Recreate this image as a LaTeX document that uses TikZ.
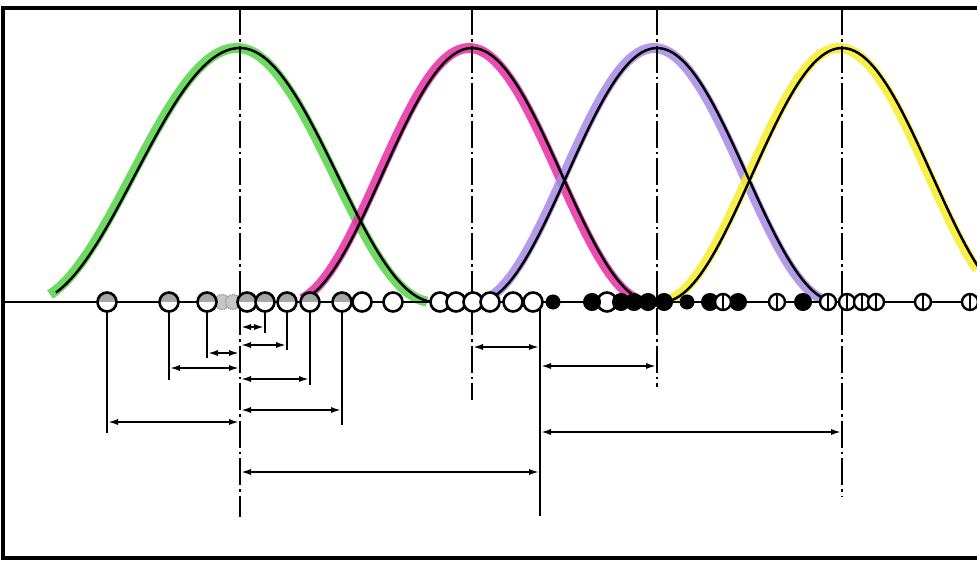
\documentclass[tikz,border=0pt]{standalone}
\usetikzlibrary{arrows.meta}
\definecolor{cgreen}{RGB}{85,212,70}
\definecolor{cmag}{RGB}{232,45,165}
\definecolor{cpur}{RGB}{168,138,230}
\definecolor{cyel}{RGB}{247,238,40}
\begin{document}
\begin{tikzpicture}[x=1pt,y=-1pt,
  axis/.style={line width=2.4,dash pattern=on 27pt off 4pt on 2.5pt off 4pt},
  hl/.style={line width=10,opacity=0.85,xshift=-3pt},
  bell/.style={line width=2.5},
  dim/.style={{Latex[length=11pt,width=6pt]}-{Latex[length=11pt,width=6pt]},line width=2.2},
  stem/.style={line width=2.4},
  halfc/.style={circle,draw,line width=2.6,minimum size=19pt,inner sep=0pt,fill=white,
    path picture={\fill[gray!70] (path picture bounding box.west) rectangle (path picture bounding box.north east);}},
  greyc/.style={circle,draw=gray!80,line width=1.3,densely dotted,minimum size=15pt,inner sep=0pt,fill=gray!45},
  openc/.style={circle,draw,line width=2.6,minimum size=19pt,inner sep=0pt,fill=white},
  blackc/.style={circle,draw,line width=1,minimum size=17pt,inner sep=0pt,fill=black},
  smallb/.style={circle,draw,line width=1,minimum size=14pt,inner sep=0pt,fill=black},
  phic/.style={circle,draw,line width=2.4,minimum size=16pt,inner sep=0pt,fill=white,
    path picture={\draw[line width=2] (path picture bounding box.north) -- (path picture bounding box.south);}}
]
\useasboundingbox (0,0) rectangle (977,563);
\fill[white] (0,0) rectangle (977,563);

% colour highlights
\draw[hl,cgreen] plot[domain=53:240,samples=60] (\x,{302-127*(1+cos((\x-240)*0.857143))})
  -- plot[domain=240:430,samples=60] (\x,{302-127*(1+cos((\x-240)*0.923077))});
\draw[hl,cmag] plot[domain=305:648,samples=90] (\x,{302-127*(1+cos(\x-472))});
\draw[hl,cpur] plot[domain=490:828,samples=90] (\x,{302-127*(1+cos(\x-657))});
\draw[hl,cyel] plot[domain=665:980,samples=90] (\x,{302-127*(1+cos(\x-842))});
% black bell curves
\draw[bell] plot[domain=56:240,samples=60] (\x,{302-127*(1+cos((\x-240)*0.857143))})
  -- plot[domain=240:430,samples=60] (\x,{302-127*(1+cos((\x-240)*0.923077))});
\draw[bell] plot[domain=305:648,samples=90] (\x,{302-127*(1+cos(\x-472))});
\draw[bell] plot[domain=490:828,samples=90] (\x,{302-127*(1+cos(\x-657))});
\draw[bell] plot[domain=662:980,samples=90] (\x,{302-127*(1+cos(\x-842))});

% frame and base line
\draw[line width=3.2] (977,8) -- (3,8) -- (3,558) -- (977,558);
\draw[line width=2] (3,302) -- (977,302);

% centre lines
\coordinate (A1) at (240,8);
\coordinate (A2) at (472,8);
\coordinate (A3) at (657,8);
\coordinate (A4) at (842,8);
\coordinate (B1) at (240,517);
\coordinate (B2) at (472,400);
\coordinate (B3) at (657,387);
\coordinate (B4) at (842,497);
\draw[axis] (A1) -- (B1);
\draw[axis] (A2) -- (B2);
\draw[axis] (A3) -- (B3);
\draw[axis] (A4) -- (B4);
\coordinate (L540) at (540,308);
\coordinate (L540b) at (540,516);
\draw[line width=2.4] (L540) -- (L540b);

% stems of the half circles
\foreach \x/\e in {107/433,169/380,207/358,265/333,287/350,310/385,342/425}
  \draw[stem] (\x,310) -- (\x,\e);

% circles on the base line
\foreach \x in {222,233}
  \node[greyc] (g\x) at (\x,302) {};
\foreach \x in {107,169,207,247,265,287,310,342}
  \node[halfc] (h\x) at (\x,302) {};
\foreach \x in {362,393,440,456,473,490,513,533,607}
  \node[openc] (o\x) at (\x,302) {};
\foreach \x in {592,621,634,648,664,710,738,803}
  \node[blackc] (b\x) at (\x,302) {};
\foreach \x in {553,687}
  \node[smallb] (s\x) at (\x,302) {};
\foreach \x in {723,777,828,847,862,876,923,970}
  \node[phic] (p\x) at (\x,302) {};

% dimension lines
\foreach \y/\a/\b in {327/A1/h265,345/A1/h287,353/h207/A1,368/h169/A1,379/A1/h310,
  410/A1/h342,422/h107/A1,347/A2/L540,366/L540/A3,432/L540/A4,472/A1/L540}{
  \coordinate (lev) at (0,\y);
  \draw[dim] (\a |- lev) -- (\b |- lev);
}
\end{tikzpicture}
\end{document}
